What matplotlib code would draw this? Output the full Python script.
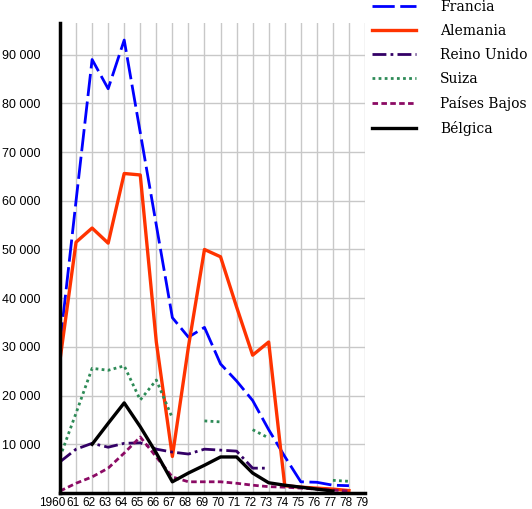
import matplotlib
matplotlib.use("Agg")
import matplotlib.pyplot as plt
import matplotlib.transforms as mtransforms
import numpy as np

nan = np.nan
years = list(range(1960, 1980))
xlabels = ["1960"] + [str(y)[2:] for y in years[1:]]

francia = [30500, 60000, 89000, 83000, 93000, 74000, 55000, 36000, 32000, 34000,
           26500, 23000, 19000, 13000, 7500, 2300, 2200, 1600, 1500, nan]
alemania = [27300, 51500, 54400, 51300, 65600, 65300, 31000, 7500, 30000, 50000,
            48500, 38200, 28300, 31000, 1500, 1200, 1000, 800, 500, nan]
reino_unido = [6400, 9000, 10200, 9400, 10200, 10300, 9000, 8400, 8000, 9000,
               8800, 8600, 5100, 5100, nan, nan, nan, nan, nan, nan]
suiza = [7400, 16400, 25600, 25200, 26100, 19100, 23200, 15400, nan, 14800,
         14600, nan, 13000, 11300, nan, nan, nan, 2600, 2400, nan]
paises_bajos = [400, 2000, 3300, 5100, 8200, 11500, 7400, 3300, 2300, 2300,
                2300, 2000, 1600, 1300, 1200, 1000, 800, 600, 400, nan]
belgica = [nan, nan, 10000, 14300, 18500, 13600, 8200, 2300, 4100, 5700,
           7400, 7400, 4100, 2100, 1600, 1200, 800, 400, nan, nan]

yticks = [10000, 20000, 30000, 40000, 50000, 60000, 70000, 80000, 90000]
ylabels = ["10 000", "20 000", "30 000", "40 000", "50 000",
           "60 000", "70 000", "80 000", "90 000"]

W, H = 532, 509
fig = plt.figure(figsize=(W / 100, H / 100), dpi=100)
ax = fig.add_axes([60 / W, 16 / H, (365 - 60) / W, (493 - 23) / H])

ax.plot(years, francia, color="#0000ff", lw=2, dashes=(8, 2), label="Francia")
ax.plot(years, alemania, color="#ff3300", lw=2.4, label="Alemania")
ax.plot(years, reino_unido, color="#330066", lw=2, dashes=(5, 1.5, 1, 1.5), label="Reino Unido")
ax.plot(years, suiza, color="#2e8b57", lw=2, dashes=(1, 1.2), label="Suiza")
ax.plot(years, paises_bajos, color="#8b0a64", lw=2, dashes=(2, 1.2), label="Países Bajos")
ax.plot(years, belgica, color="black", lw=2.4, label="Bélgica")

ax.set_xlim(1960, 1979)
ax.set_ylim(0, 96500)
ax.set_xticks(years)
ax.set_xticklabels(xlabels, family="Liberation Sans", fontsize=8.5)
ax.set_yticks(yticks)
ax.set_yticklabels(ylabels, family="Liberation Sans", fontsize=9)
ax.tick_params(axis="both", length=0)
ax.tick_params(axis="y", pad=14)
ax.tick_params(axis="x", pad=3)

# las etiquetas del eje x van un poco a la izquierda de la rejilla
for i, lab in enumerate(ax.get_xticklabels()):
    dx = -8 if i == 0 else -3
    lab.set_transform(lab.get_transform() +
                      mtransforms.ScaledTranslation(dx / 100, 0, fig.dpi_scale_trans))

ax.grid(True, color="#c8c8c8", lw=1)
ax.set_axisbelow(True)
for s in ["top", "right"]:
    ax.spines[s].set_visible(False)
for s in ["left", "bottom"]:
    ax.spines[s].set_linewidth(2.5)
    ax.spines[s].set_color("black")

fig.legend(loc="upper left", bbox_to_anchor=(372 / W, 1.0), frameon=False,
           prop={"family": "DejaVu Serif", "size": 10}, handlelength=3.2,
           handletextpad=1.7, labelspacing=0.72, borderpad=0, borderaxespad=0)

fig.savefig("out.png", dpi=100)
